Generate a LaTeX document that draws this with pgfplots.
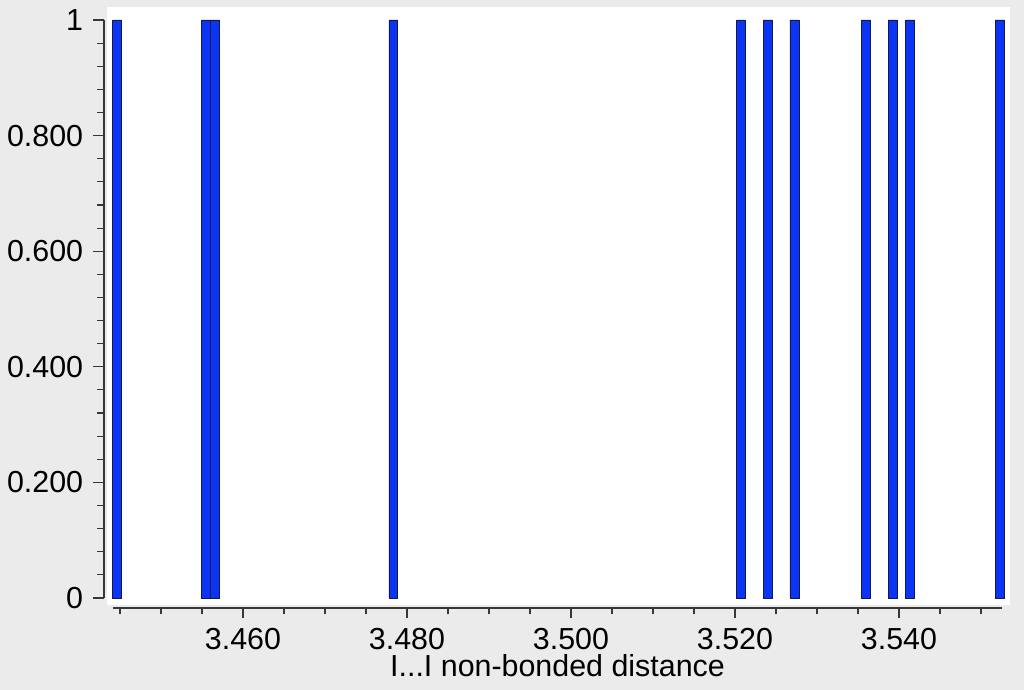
\documentclass[border=0pt]{standalone}
\usepackage{fontspec}
\setmainfont{Liberation Sans}
\usepackage{pgfplots}
\pgfplotsset{compat=1.18}
\definecolor{bg}{RGB}{235,235,235}
\definecolor{barblue}{RGB}{12,52,245}
\definecolor{baredge}{RGB}{20,25,70}
\definecolor{axgray}{RGB}{55,55,55}
\begin{document}
\fontsize{15.2}{18}\selectfont
\begin{tikzpicture}
\begin{axis}[
  set layers,
  scale only axis,
  width=444.5pt, height=289pt,
  xmin=3.444146, xmax=3.552561,
  ymin=0, ymax=1,
  clip=false,
  axis x line*=bottom, axis y line*=left,
  axis x line shift=5pt, axis y line shift=4.5pt,
  axis line style={axgray, line width=0.6pt},
  tick style={axgray, line width=0.55pt},
  tick align=outside,
  major tick length=5.25pt, minor tick length=3.25pt,
  xtick={3.46,3.48,3.50,3.52,3.54},
  xticklabels={3.460,3.480,3.500,3.520,3.540},
  minor xtick={3.445,3.450,3.455,3.465,3.470,3.475,3.485,3.490,3.495,3.505,3.510,3.515,3.525,3.530,3.535,3.545,3.550},
  ytick={0,0.2,0.4,0.6,0.8,1},
  yticklabels={0,0.200,0.400,0.600,0.800,1},
  minor y tick num=4,
  ticklabel style={font=\fontsize{15.2}{18}\selectfont, inner sep=0pt},
  xticklabel style={yshift=-4.5pt},
  yticklabel style={xshift=-5pt},
  xlabel={I...I non-bonded distance},
  xlabel style={font=\fontsize{15.2}{18}\selectfont, inner sep=0pt, at={(axis description cs:0.5,0)}, anchor=base, yshift=-39.5pt},
]
\begin{pgfonlayer}{axis background}
\fill[bg] (axis cs:3.430366,-0.159170) rectangle (axis cs:3.555244,1.034602);
\fill[white] (axis cs:3.443415,-0.012111) rectangle (axis cs:3.553537,1.022491);
\end{pgfonlayer}
\addplot[ybar, bar width=0.00109, fill=barblue, draw=baredge, line width=0.4pt] coordinates {
(3.44464,1) (3.45551,1) (3.45660,1) (3.47834,1) (3.52073,1) (3.52399,1)
(3.52725,1) (3.53595,1) (3.53921,1) (3.54138,1) (3.55226,1)
};
\end{axis}
\end{tikzpicture}
\end{document}
